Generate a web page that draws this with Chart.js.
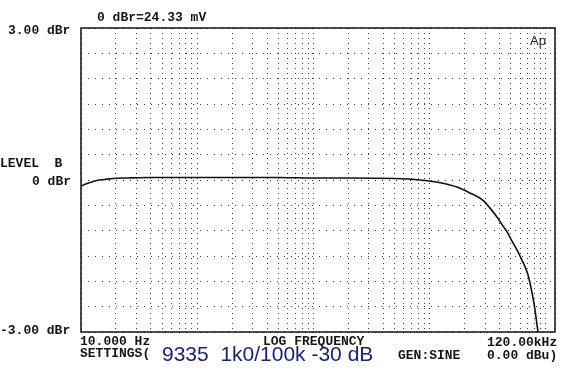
<!DOCTYPE html>
<html>
<head>
<meta charset="utf-8">
<script src="https://cdn.jsdelivr.net/npm/chart.js@4"></script>
<style>
  body { margin: 0; background: #fff; }
  #wrap { position: relative; width: 574px; height: 375px; }
  .t { position: absolute; font-family: "Liberation Mono", monospace; font-weight: bold;
       font-size: 13px; line-height: 13px; color: #151515; white-space: pre; }
  #blue { position: absolute; left: 162px; top: 343px; font-family: "Liberation Sans", Arial, sans-serif;
          font-size: 21px; line-height: 21px; color: #1c2276; white-space: pre; }
  #ap { position: absolute; left: 530px; top: 33px; font-family: "Liberation Sans", sans-serif;
        font-size: 13px; color: #222; }
</style>
</head>
<body>
<div id="wrap">
  <canvas id="c" width="574" height="375"></canvas>
  <div class="t" style="left:97px;top:11px">0 dBr=24.33 mV</div>
  <div class="t" style="left:8px;top:24px">3.00 dBr</div>
  <div class="t" style="left:0px;top:157px">LEVEL  B</div>
  <div class="t" style="left:32px;top:175px">0 dBr</div>
  <div class="t" style="left:0px;top:324px">-3.00 dBr</div>
  <div class="t" style="left:80px;top:335px">10.000 Hz</div>
  <div class="t" style="left:263px;top:335px">LOG FREQUENCY</div>
  <div class="t" style="left:487px;top:336px">120.00kHz</div>
  <div class="t" style="left:80px;top:347px">SETTINGS(</div>
  <div class="t" style="left:398px;top:349px">GEN:SINE</div>
  <div class="t" style="left:487px;top:349px">0.00 dBu)</div>
  <div id="blue">9335  1k0/100k -30 dB</div>
  <div id="ap">Ap</div>
</div>
<script>
// frequency response
var freqs = [10, 11, 12, 13.7, 16, 18.9, 25, 39, 60, 100, 200, 500, 1000, 2000, 5000, 8260,
  12000, 17200, 22000, 28800, 33000, 38000, 42000, 46300, 51000, 56500, 62000, 66200,
  70000, 73100, 76000, 79100, 82000, 85700, 88000];
var levels = [-0.12, -0.08, -0.05, -0.01, 0.01, 0.03, 0.04, 0.05, 0.05, 0.05, 0.05, 0.05, 0.04, 0.04, 0.03, 0.0,
  -0.05, -0.14, -0.25, -0.4, -0.55, -0.73, -0.88, -1.02, -1.2, -1.38, -1.57, -1.71,
  -1.86, -2.03, -2.22, -2.43, -2.68, -3.0, -3.2];

var xMin = 10, xMax = 120000;
var yMin = -3, yMax = 3, yStep = 0.5;

// gridline positions: 1..9 per decade
var gridFreqs = [];
for (var d = 10; d < xMax; d *= 10) {
  for (var m = 1; m < 10; m++) {
    if (d * m <= xMax) gridFreqs.push(d * m);
  }
}
gridFreqs.push(xMax);

var points = freqs.map(function (f, i) { return { x: f, y: levels[i] }; });

// box around the plot area
var frame = {
  id: 'frame',
  afterDraw: function (chart) {
    var a = chart.chartArea, ctx = chart.ctx;
    ctx.save();
    ctx.strokeStyle = '#111';
    ctx.lineWidth = 1.5;
    ctx.strokeRect(a.left, a.top, a.right - a.left, a.bottom - a.top);
    ctx.restore();
  }
};

new Chart(document.getElementById('c'), {
  type: 'line',
  data: {
    datasets: [{
      data: points,
      borderColor: '#111',
      borderWidth: 1.6,
      pointRadius: 0,
      cubicInterpolationMode: 'monotone',
      fill: false
    }]
  },
  options: {
    responsive: false,
    animation: false,
    devicePixelRatio: 1,
    layout: { padding: { left: 81, top: 28, right: 19, bottom: 43 } },
    plugins: { legend: { display: false }, tooltip: { enabled: false } },
    scales: {
      x: {
        type: 'logarithmic',
        min: xMin,
        max: xMax,
        afterBuildTicks: function (scale) {
          scale.ticks = gridFreqs.map(function (v) { return { value: v }; });
        },
        ticks: { display: false },
        border: { display: false, dash: [1, 4] },
        grid: { drawTicks: false, color: '#3a3a3a', lineWidth: 1 }
      },
      y: {
        min: yMin,
        max: yMax,
        ticks: { display: false, stepSize: yStep },
        border: { display: false, dash: [1, 6] },
        grid: {
          drawTicks: false,
          lineWidth: 1,
          color: function (c) { return c.tick && c.tick.value === 0 ? '#222' : '#3a3a3a'; }
        }
      }
    }
  },
  plugins: [frame]
});
</script>
</body>
</html>
